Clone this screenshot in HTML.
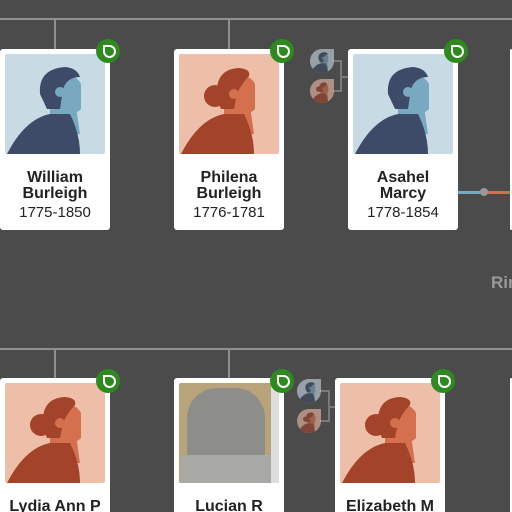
<!DOCTYPE html>
<html style="width:512px;height:512px;overflow:hidden"><head><style>
body{margin:0;width:512px;height:512px;background:#4b4b4b;position:relative;overflow:hidden;font-family:"Liberation Sans",Arial,sans-serif}
.a{position:absolute}
.ln{position:absolute;background:#8f8f8f}
.card{position:absolute;width:110px;height:181px;background:#fff;border-radius:3px}
.img{position:absolute;left:5px;top:5px;width:100px;height:100px;border-radius:2px;overflow:hidden}
.nm{position:absolute;left:0;right:0;top:121px;text-align:center;color:#222;font-weight:bold;font-size:16px;line-height:16px}
.dt{position:absolute;left:0;right:0;top:155px;text-align:center;color:#222;font-size:15px}
.badge{position:absolute;width:24px;height:24px;border-radius:50%;background:#2e8a1e}
.badge:after{content:"";position:absolute;left:7px;top:6px;width:9px;height:9px;border:2px solid #fff;border-radius:0 50% 50% 50%}
.sm{position:absolute;width:24px;height:24px;border-radius:50% 0 50% 50%;overflow:hidden}
.bc{height:134px;border-radius:3px 3px 0 0}
</style></head><body>
<svg width="0" height="0" style="position:absolute"><defs>
<symbol id="m" viewBox="0 0 100 100"><rect width="100" height="100" fill="#c8dbe5"/><path d="M45 50 L70 45 L75 80 L45 80Z" fill="#78a9c0"/><path d="M50 22 Q70 18 76 30 L76 55 Q70 62 55 58 L45 50Z" fill="#78a9c0"/><path d="M35 40 Q33 15 60 13 Q72 14 75 23 Q62 23 58 35 L55 55 L42 55Z" fill="#3d4a68"/><circle cx="55" cy="38" r="5" fill="#78a9c0"/><path d="M2 100 Q20 65 45 60 L65 60 Q75 80 75 100Z" fill="#3d4a68"/></symbol>
<symbol id="f" viewBox="0 0 100 100"><rect width="100" height="100" fill="#eebfa8"/><path d="M45 50 L70 45 L75 80 L45 80Z" fill="#d5704f"/><path d="M50 22 Q70 18 76 30 L76 55 Q70 62 55 58 L45 50Z" fill="#d5704f"/><path d="M38 45 Q35 15 60 14 Q72 15 70 22 Q62 30 58 40 L55 55 L42 55Z" fill="#a3432a"/><circle cx="36" cy="42" r="11" fill="#a3432a"/><circle cx="55" cy="40" r="5" fill="#d5704f"/><path d="M2 100 Q20 65 45 60 L65 60 Q75 80 75 100Z" fill="#a3432a"/></symbol>
</defs></svg>

<div class="ln" style="left:0;top:18px;width:512px;height:2px"></div>
<div class="ln" style="left:54px;top:18px;width:2px;height:31px"></div>
<div class="ln" style="left:228px;top:18px;width:2px;height:31px"></div>
<div class="ln" style="left:0;top:348px;width:512px;height:2px"></div>
<div class="ln" style="left:54px;top:348px;width:2px;height:30px"></div>
<div class="ln" style="left:228px;top:348px;width:2px;height:30px"></div>

<div class="card" style="left:0;top:49px"><div class="img"><svg width="100" height="100"><use href="#m"/></svg></div><div class="nm">William<br>Burleigh</div><div class="dt">1775-1850</div></div>
<div class="card" style="left:174px;top:49px"><div class="img"><svg width="100" height="100"><use href="#f"/></svg></div><div class="nm">Philena<br>Burleigh</div><div class="dt">1776-1781</div></div>
<div class="card" style="left:348px;top:49px"><div class="img"><svg width="100" height="100"><use href="#m"/></svg></div><div class="nm">Asahel<br>Marcy</div><div class="dt">1778-1854</div></div>
<div class="card" style="left:510px;top:49px;width:2px"></div>
<div class="badge" style="left:96px;top:39px"></div>
<div class="badge" style="left:270px;top:39px"></div>
<div class="badge" style="left:444px;top:39px"></div>

<div class="ln" style="left:333px;top:60px;width:8px;height:2px;background:#7a7a7a"></div>
<div class="ln" style="left:333px;top:90px;width:8px;height:2px;background:#7a7a7a"></div>
<div class="ln" style="left:340px;top:60px;width:2px;height:32px;background:#7a7a7a"></div>
<div class="ln" style="left:341px;top:76px;width:7px;height:2px;background:#7a7a7a"></div>
<div class="sm" style="left:310px;top:49px;opacity:.6"><svg width="24" height="24"><use href="#m"/></svg></div>
<div class="sm" style="left:310px;top:79px;opacity:.6"><svg width="24" height="24"><use href="#f"/></svg></div>

<div class="a" style="left:458px;top:191px;width:26px;height:3px;background:#78a9c0"></div>
<div class="a" style="left:484px;top:191px;width:26px;height:3px;background:#d5704f"></div>
<div class="a" style="left:480px;top:188px;width:8px;height:8px;border-radius:50%;background:#999"></div>
<div class="a" style="left:491px;top:273px;color:#9a9a9a;font-weight:bold;font-size:17px">Rin</div>

<div class="card bc" style="left:0;top:378px"><div class="img"><svg width="100" height="100"><use href="#f"/></svg></div><div class="nm">Lydia Ann P</div></div>
<div class="card bc" style="left:174px;top:378px"><div class="img" style="background:#b9a37a"><div class="a" style="left:8px;top:5px;width:78px;height:95px;background:#8d8d8a;border-radius:30px 30px 0 0"></div><div class="a" style="left:2px;top:72px;width:90px;height:28px;background:#a8a8a4"></div><div class="a" style="left:92px;top:0;width:8px;height:100px;background:#ddd"></div></div><div class="nm">Lucian R</div></div>
<div class="card bc" style="left:335px;top:378px"><div class="img"><svg width="100" height="100"><use href="#f"/></svg></div><div class="nm">Elizabeth M</div></div>
<div class="card bc" style="left:510px;top:378px;width:2px"></div>
<div class="badge" style="left:96px;top:369px"></div>
<div class="badge" style="left:270px;top:369px"></div>
<div class="badge" style="left:431px;top:369px"></div>

<div class="ln" style="left:320px;top:390px;width:9px;height:2px;background:#7a7a7a"></div>
<div class="ln" style="left:320px;top:420px;width:9px;height:2px;background:#7a7a7a"></div>
<div class="ln" style="left:328px;top:390px;width:2px;height:32px;background:#7a7a7a"></div>
<div class="ln" style="left:329px;top:406px;width:6px;height:2px;background:#7a7a7a"></div>
<div class="sm" style="left:297px;top:379px;opacity:.6"><svg width="24" height="24"><use href="#m"/></svg></div>
<div class="sm" style="left:297px;top:409px;opacity:.6"><svg width="24" height="24"><use href="#f"/></svg></div>
</body></html>
